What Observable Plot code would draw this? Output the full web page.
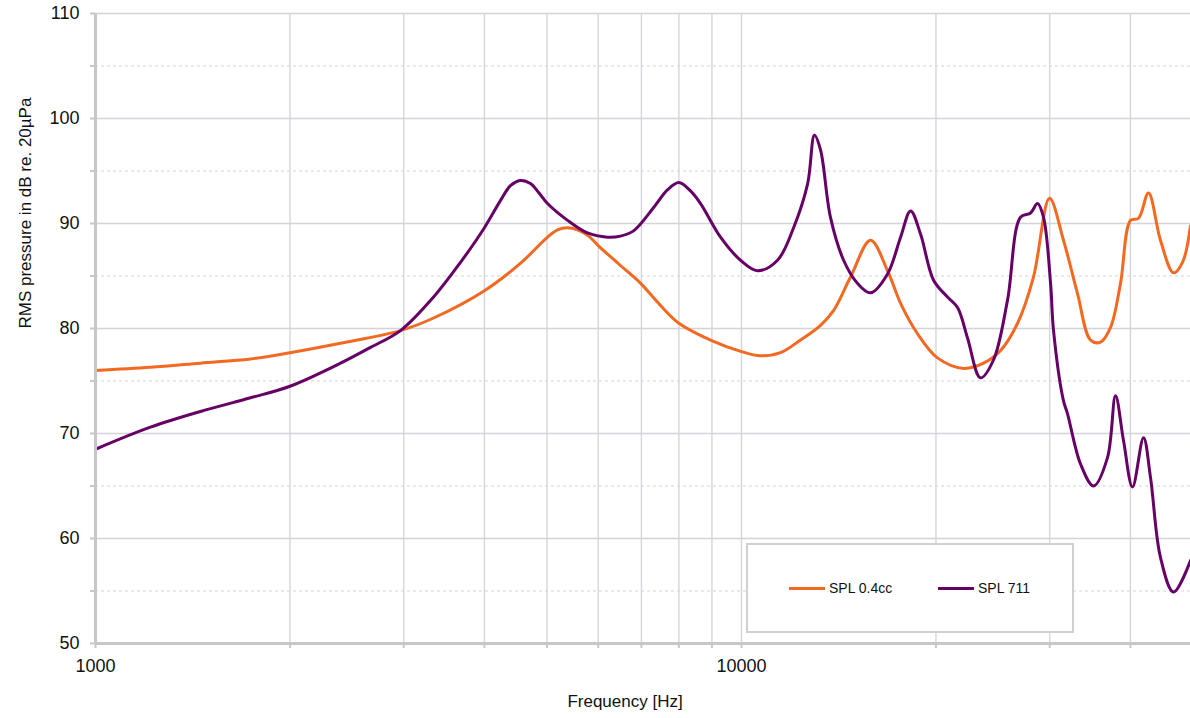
<!DOCTYPE html>
<html>
<head>
<meta charset="utf-8">
<script src="https://cdn.jsdelivr.net/npm/d3@7"></script>
<script src="https://cdn.jsdelivr.net/npm/@observablehq/plot@0.6"></script>
<style>
  html, body { margin: 0; padding: 0; background: #fff; }
  #wrap { position: relative; width: 1190px; height: 718px; font-family: "Liberation Sans", Arial, sans-serif; }
  #legend { position: absolute; left: 746px; top: 543px; width: 324px; height: 86px; background: #fff;
            border: 2px solid #cfcfd4; box-sizing: content-box; }
  .item { position: absolute; top: 35px; display: flex; align-items: center; font-size: 14px; color: #111; }
  .sw { width: 36px; height: 3px; margin-right: 4px; }
</style>
</head>
<body>
<div id="wrap"></div>
<script>
// Frequencies (Hz) and SPL (dB re. 20µPa)
const orangeFreq = [1000,1216,1454,1738,2000,2395,2966,3337,4000,4546,5009,5189,5379,5574,5800,6000,6496,6980,7491,8000,8954,10000,10700,11490,12340,13255,13880,14750,15840,16830,17630,18730,20110,22070,23700,25180,26750,28310,29980,31510,33130,34700,35960,37260,38610,40020,41170,42660,44520,46640,48160,49550];
const orangeDb   = [76.0,76.3,76.7,77.1,77.7,78.6,79.8,81.0,83.6,86.2,88.7,89.4,89.6,89.4,88.8,87.9,86.0,84.3,82.2,80.5,78.9,77.8,77.4,77.7,78.9,80.3,81.7,84.9,88.4,85.5,82.4,79.5,77.2,76.2,76.7,77.9,80.5,84.9,92.4,88.4,83.3,78.9,78.7,80.1,84.3,90.3,90.5,92.9,88.4,85.3,86.3,89.8];

const purpleFreq = [1000,1216,1454,1738,2000,2395,2665,2966,3337,3673,4000,4237,4389,4546,4713,4860,5009,5379,5775,6202,6496,6806,7307,7680,8000,8337,8642,9280,9965,10590,11370,12040,12660,12970,13255,13730,14390,15120,15840,16830,17630,18270,18930,19830,20840,21600,22380,23440,24550,25810,27030,28020,28720,29340,30090,30410,31510,31960,33480,35070,36860,37930,39030,40300,41910,42970,44520,46640,49550];
const purpleDb   = [68.5,70.6,72.1,73.4,74.5,76.7,78.2,79.8,83.0,86.3,89.6,92.2,93.6,94.1,93.8,92.9,91.9,90.3,89.1,88.7,88.8,89.3,91.5,93.2,93.9,93.1,91.9,88.7,86.5,85.5,86.5,89.6,93.8,98.4,97.0,90.6,86.5,84.3,83.4,85.2,88.7,91.2,89.0,84.6,83.0,82.0,79.1,75.3,77.0,82.7,90.6,91.0,91.9,90.6,84.3,79.8,73.1,71.9,67.1,65.0,67.7,73.6,69.3,64.9,69.6,65.8,58.2,54.9,57.9];

const seriesNames = ["SPL 0.4cc", "SPL 711"];
const seriesColors = ["#f26a22", "#660066"];

const xGridTicks = [2000,3000,4000,5000,6000,7000,8000,9000,10000,20000,30000,40000];
const xAxisTicks = [1000,2000,3000,4000,5000,6000,7000,8000,9000,10000,20000,30000,40000];
const xLabelTicks = [1000, 10000];
const yMajor = [60,70,80,90,100,110];
const yMinor = [55,65,75,85,95,105];
const yAxisTicks = [50,55,60,65,70,75,80,85,90,95,100,105,110];

const orange = orangeFreq.map((f, i) => ({f, db: orangeDb[i]}));
const purple = purpleFreq.map((f, i) => ({f, db: purpleDb[i]}));

const gridColor = "#d3d3d9";
const axisColor = "#c6c7cc";

const chart = Plot.plot({
  width: 1190,
  height: 718,
  marginLeft: 95,
  marginRight: 0,
  marginTop: 13,
  marginBottom: 75,
  x: {type: "log", domain: [1000, 49550]},
  y: {domain: [50, 110]},
  style: {fontFamily: "'Liberation Sans', Arial, sans-serif", fontSize: "17px", color: "#111", background: "#fff"},
  marks: [
    Plot.ruleX(xGridTicks, {stroke: gridColor, strokeWidth: 1.3}),
    Plot.ruleY(yMajor, {stroke: gridColor, strokeWidth: 1.3}),
    Plot.ruleY(yMinor, {stroke: gridColor, strokeWidth: 1.2, strokeDasharray: "3,3"}),
    Plot.line(orange, {x: "f", y: "db", stroke: seriesColors[0], strokeWidth: 3, curve: "catmull-rom"}),
    Plot.line(purple, {x: "f", y: "db", stroke: seriesColors[1], strokeWidth: 3, curve: "catmull-rom"}),
    Plot.ruleX([1000], {stroke: axisColor, strokeWidth: 3}),
    Plot.ruleY([50], {stroke: axisColor, strokeWidth: 3}),
    Plot.axisY(yAxisTicks, {
      tickSize: 5, tickPadding: 11, stroke: axisColor, strokeWidth: 2,
      tickFormat: d => d % 10 === 0 ? String(d) : "", label: null, fontSize: 18
    }),
    Plot.axisX(xAxisTicks, {
      tickSize: 5, tickPadding: 11, stroke: axisColor, strokeWidth: 2,
      tickFormat: d => xLabelTicks.includes(d) ? String(d) : "", label: null, fontSize: 18
    }),
    Plot.text(["RMS pressure in dB re. 20µPa"], {
      frameAnchor: "left", rotate: -90, dx: -70, text: d => d, fontSize: 17, fill: "#111"
    }),
    Plot.text(["Frequency [Hz]"], {
      frameAnchor: "bottom", dx: -18, dy: 63, text: d => d, fontSize: 17, fill: "#111"
    })
  ]
});

const wrap = document.getElementById("wrap");
wrap.appendChild(chart);

const legend = document.createElement("div");
legend.id = "legend";
const lefts = [41, 190];
seriesNames.forEach((name, i) => {
  const it = document.createElement("div");
  it.className = "item";
  it.style.left = lefts[i] + "px";
  const sw = document.createElement("div");
  sw.className = "sw";
  sw.style.background = seriesColors[i];
  it.appendChild(sw);
  const t = document.createElement("span");
  t.textContent = name;
  it.appendChild(t);
  legend.appendChild(it);
});
wrap.appendChild(legend);
</script>
</body>
</html>
